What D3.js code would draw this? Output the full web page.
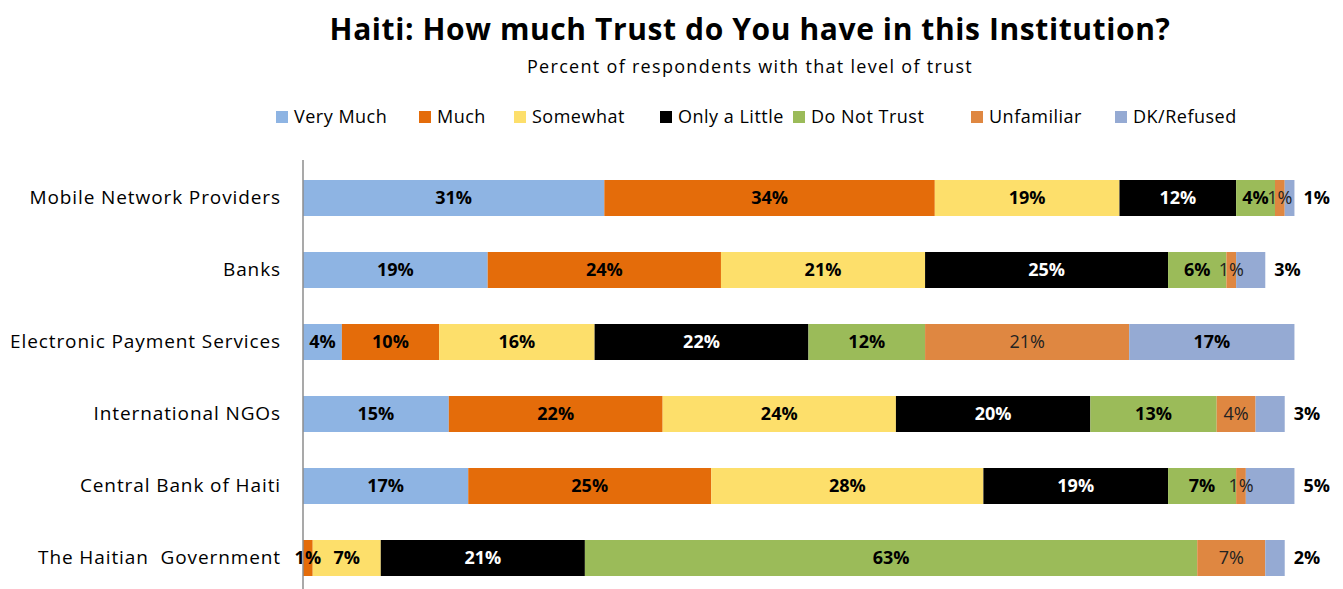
<!DOCTYPE html>
<html>
<head>
<meta charset="utf-8">
<script src="https://cdn.jsdelivr.net/npm/d3@7"></script>
<style>
  html, body { margin: 0; padding: 0; background: #fff; }
  svg { display: block; font-family: "Open Sans", Lato, sans-serif; }
</style>
</head>
<body>
<svg id="chart" width="1343" height="589"></svg>
<script>
// Institutions (rows, top to bottom)
const categories = [
  "Mobile Network Providers",
  "Banks",
  "Electronic Payment Services",
  "International NGOs",
  "Central Bank of Haiti",
  "The Haitian  Government"
];

// Trust levels (stack order, left to right)
const seriesNames = ["Very Much", "Much", "Somewhat", "Only a Little", "Do Not Trust", "Unfamiliar", "DK/Refused"];
const seriesColors = ["#8EB4E3", "#E46C0A", "#FDDF6B", "#000000", "#9BBB59", "#DF8741", "#95AAD3"];

// Percent of respondents, one array per trust level, in category order
const veryMuch    = [31, 19,  4, 15, 17,  0];
const much        = [34, 24, 10, 22, 25,  1];
const somewhat    = [19, 21, 16, 24, 28,  7];
const onlyALittle = [12, 25, 22, 20, 19, 21];
const doNotTrust  = [ 4,  6, 12, 13,  7, 63];
const unfamiliar  = [ 1,  1, 21,  4,  1,  7];
const dkRefused   = [ 1,  3, 17,  3,  5,  2];

const seriesValues = [veryMuch, much, somewhat, onlyALittle, doNotTrust, unfamiliar, dkRefused];

const rows = categories.map((c, i) => {
  const r = { category: c };
  seriesNames.forEach((s, k) => { r[s] = seriesValues[k][i]; });
  return r;
});

const svg = d3.select("#chart");

const x = d3.scaleLinear().domain([0, 100]).range([303, 1275]);
const y = d3.scaleBand().domain(categories).range([162, 594]).paddingInner(0.5).paddingOuter(0.25);

const stacked = d3.stack().keys(seriesNames)(rows);

// Title
svg.append("text")
  .attr("x", 750).attr("y", 40)
  .attr("text-anchor", "middle")
  .attr("font-size", 30).attr("font-weight", "bold")
  .attr("letter-spacing", 0.6)
  .attr("fill", "#000")
  .text("Haiti: How much Trust do You have in this Institution?");

svg.append("text")
  .attr("x", 750).attr("y", 73)
  .attr("text-anchor", "middle")
  .attr("font-size", 18)
  .attr("letter-spacing", 1.3)
  .attr("fill", "#000")
  .text("Percent of respondents with that level of trust");

// Legend
const legendX = [276, 419, 514, 660, 793, 971, 1115];
const legend = svg.append("g").selectAll("g")
  .data(seriesNames)
  .join("g")
  .attr("transform", (d, i) => `translate(${legendX[i]},111)`);
legend.append("rect")
  .attr("width", 12).attr("height", 12)
  .attr("fill", (d, i) => seriesColors[i]);
legend.append("text")
  .attr("x", 18).attr("y", 12)
  .attr("font-size", 18)
  .attr("letter-spacing", 0.5)
  .attr("fill", "#000")
  .text(d => d);

// Bars
const layers = svg.append("g").selectAll("g")
  .data(stacked)
  .join("g")
  .attr("fill", (d, i) => seriesColors[i]);

layers.selectAll("rect")
  .data(d => d)
  .join("rect")
  .attr("x", d => x(d[0]))
  .attr("width", d => Math.max(0, x(d[1]) - x(d[0])))
  .attr("y", d => y(d.data.category))
  .attr("height", y.bandwidth());

// Segment labels; small DK/Refused values sit just past the bar end
const labelG = svg.append("g");
stacked.forEach((layer, k) => {
  const name = seriesNames[k];
  layer.forEach(d => {
    const v = d.data[name];
    if (!v) return;
    const cy = y(d.data.category) + y.bandwidth() / 2;
    const outside = name === "DK/Refused" && v < 10;
    labelG.append("text")
      .attr("x", outside ? x(d[1]) + 9 : (x(d[0]) + x(d[1])) / 2)
      .attr("y", cy)
      .attr("dy", "0.36em")
      .attr("text-anchor", outside ? "start" : "middle")
      .attr("font-size", 18)
      .attr("font-weight", name === "Unfamiliar" ? "normal" : "bold")
      .attr("fill", name === "Only a Little" ? "#fff" : (name === "Unfamiliar" ? "#222" : "#000"))
      .text(v + "%");
  });
});

// Category axis
const yAxis = d3.axisLeft(y).tickSize(0).tickPadding(22);
const axisG = svg.append("g")
  .attr("transform", "translate(303,0)")
  .call(yAxis);
axisG.select(".domain").remove();
axisG.selectAll("text")
  .attr("font-size", 19)
  .attr("letter-spacing", 0.9)
  .attr("font-family", "'Open Sans', Lato, sans-serif")
  .attr("fill", "#000")
  .style("white-space", "pre");

svg.append("line")
  .attr("x1", 303).attr("x2", 303)
  .attr("y1", 160).attr("y2", 589)
  .attr("stroke", "#8c8c8c").attr("stroke-width", 1.5);
</script>
</body>
</html>
